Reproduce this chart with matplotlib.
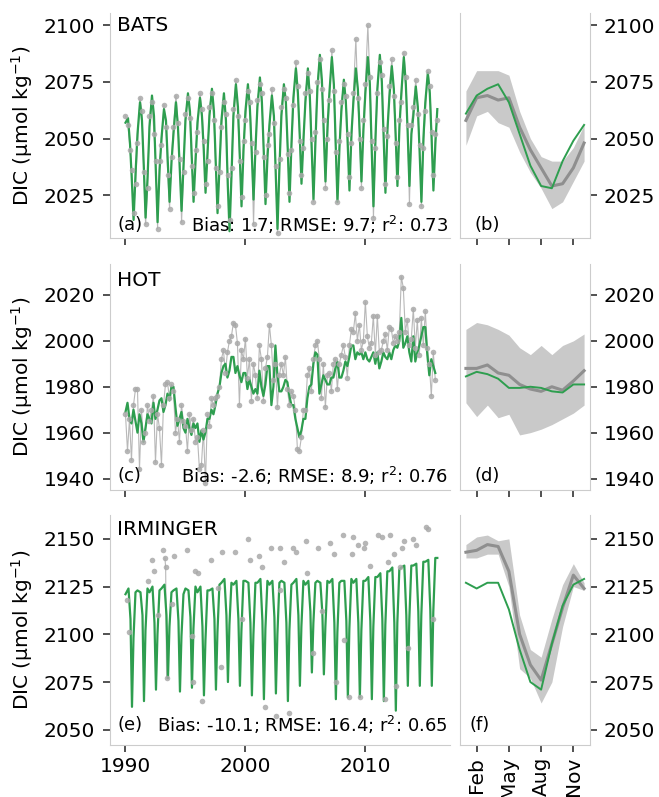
import numpy as np
import matplotlib.pyplot as plt

# time-series samples: one row per year, values at the months listed below
years = list(range(1990, 2017))

bats_months = [0.5, 3.0, 5.0, 6.8, 8.6, 10.6]
bats_model = [
    [2057, 2059, 2048, 2032, 2014, 2035],
    [2052, 2066, 2058, 2038, 2015, 2033],
    [2055, 2069, 2060, 2036, 2013, 2036],
    [2050, 2063, 2058, 2040, 2022, 2040],
    [2052, 2066, 2055, 2037, 2018, 2038],
    [2058, 2070, 2062, 2042, 2022, 2040],
    [2057, 2068, 2060, 2045, 2026, 2044],
    [2060, 2072, 2062, 2040, 2017, 2038],
    [2058, 2070, 2058, 2030, 2009, 2034],
    [2060, 2074, 2064, 2043, 2020, 2045],
    [2062, 2074, 2063, 2044, 2023, 2046],
    [2064, 2077, 2066, 2045, 2021, 2042],
    [2056, 2069, 2060, 2035, 2010, 2038],
    [2060, 2074, 2066, 2046, 2022, 2048],
    [2068, 2081, 2070, 2052, 2030, 2050],
    [2066, 2081, 2068, 2046, 2023, 2049],
    [2072, 2087, 2076, 2054, 2031, 2055],
    [2070, 2086, 2074, 2048, 2022, 2046],
    [2062, 2076, 2066, 2048, 2027, 2052],
    [2066, 2081, 2072, 2053, 2031, 2054],
    [2070, 2086, 2074, 2046, 2020, 2050],
    [2072, 2087, 2075, 2050, 2026, 2054],
    [2068, 2082, 2072, 2052, 2029, 2055],
    [2070, 2086, 2074, 2053, 2029, 2052],
    [2060, 2073, 2064, 2044, 2022, 2050],
    [2066, 2079, 2070, 2050, 2027, 2048],
    [2063],
]
bats_obs = [
    [2060, 2056, 2045, 2036, 2017, 2030],
    [2048, 2068, 2062, 2035, 2012, 2028],
    [2060, 2066, 2052, 2040, 2010, 2040],
    [2047, 2065, 2055, 2034, 2019, 2042],
    [2055, 2069, 2057, 2041, 2013, 2035],
    [2061, 2068, 2059, 2038, 2026, 2045],
    [2053, 2070, 2063, 2049, 2030, 2040],
    [2064, 2070, 2058, 2037, 2020, 2035],
    [2055, 2066, 2061, 2034, 2014, 2037],
    [2063, 2076, 2060, 2040, 2024, 2049],
    [2058, 2071, 2066, 2048, 2012, 2044],
    [2067, 2074, 2070, 2042, 2025, 2047],
    [2052, 2072, 2057, 2038, 2008, 2041],
    [2064, 2072, 2068, 2043, 2026, 2045],
    [2065, 2084, 2073, 2049, 2034, 2046],
    [2070, 2079, 2071, 2050, 2022, 2053],
    [2075, 2085, 2072, 2058, 2028, 2050],
    [2067, 2089, 2071, 2044, 2022, 2049],
    [2066, 2074, 2069, 2052, 2033, 2048],
    [2070, 2094, 2068, 2050, 2028, 2058],
    [2074, 2100, 2077, 2049, 2015, 2046],
    [2070, 2084, 2078, 2054, 2030, 2051],
    [2073, 2085, 2069, 2048, 2033, 2058],
    [2066, 2088, 2077, 2056, 2021, 2056],
    [2064, 2076, 2061, 2047, 2020, 2046],
    [2062, 2080, 2073, 2053, 2034, 2052],
    [2058],
]

hot_months = [0.5, 2.5, 4.5, 6.5, 8.5, 10.5]
hot_model = [
    [1969, 1973, 1966, 1964, 1970, 1965],
    [1960, 1968, 1964, 1956, 1962, 1968],
    [1966, 1964, 1973, 1966, 1970, 1974],
    [1975, 1969, 1972, 1977, 1974, 1980],
    [1980, 1971, 1963, 1966, 1969, 1962],
    [1960, 1966, 1962, 1959, 1964, 1962],
    [1964, 1956, 1961, 1957, 1960, 1966],
    [1966, 1970, 1968, 1972, 1977, 1980],
    [1986, 1989, 1990, 1984, 1987, 1993],
    [1993, 1986, 1989, 1985, 1982, 1986],
    [1986, 1979, 1983, 1980, 1977, 1979],
    [1977, 1987, 1980, 1976, 1981, 1989],
    [1989, 1972, 1980, 1998, 1985, 1978],
    [1978, 1980, 1983, 1982, 1976, 1972],
    [1972, 1966, 1962, 1958, 1961, 1966],
    [1966, 1975, 1980, 1981, 1990, 1995],
    [1994, 1977, 1981, 1985, 1983, 1981],
    [1981, 1984, 1984, 1988, 1991, 1984],
    [1984, 1987, 1991, 1989, 1993, 1998],
    [1998, 1992, 1995, 1994, 1995, 1992],
    [1995, 1992, 1991, 1993, 1995, 1990],
    [1995, 1988, 1991, 1995, 1993, 1992],
    [1995, 1992, 1996, 1998, 1997, 2000],
    [2010, 1997, 1999, 2002, 1995, 1991],
    [2002, 1991, 1995, 1998, 2002, 2006],
    [2006, 1994, 1985, 1992, 1989, 1986],
]
hot_obs = [
    [1968, 1952, 1966, 1948, 1972, 1979],
    [1979, 1944, 1970, 1956, 1960, 1972],
    [1965, 1970, 1976, 1947, 1968, 1962],
    [1946, 1972, 1981, 1982, 1975, 1981],
    [1978, 1960, 1966, 1956, 1972, 1965],
    [1963, 1952, 1968, 1961, 1966, 1956],
    [1958, 1944, 1946, 1961, 1938, 1968],
    [1963, 1975, 1972, 1975, 1976, 1980],
    [1992, 1996, 1986, 1995, 2000, 2002],
    [2008, 2007, 1999, 1972, 1996, 1992],
    [2001, 1984, 1992, 1974, 1990, 1985],
    [1975, 1998, 1992, 1974, 1988, 1993],
    [2007, 1998, 1983, 1990, 1971, 1985],
    [1990, 1985, 1993, 1979, 1972, 1978],
    [1976, 1970, 1953, 1952, 1958, 1970],
    [1970, 1985, 1988, 1978, 1992, 1998],
    [2000, 1992, 1975, 1990, 1971, 1985],
    [1986, 1978, 1990, 1992, 1979, 1990],
    [1994, 1998, 1993, 1984, 1998, 2005],
    [2004, 2012, 2000, 2007, 1996, 2000],
    [2017, 2002, 1997, 1999, 2011, 1994],
    [2011, 1995, 1996, 2000, 2003, 1996],
    [2006, 2005, 1999, 2002, 2000, 2004],
    [2028, 2023, 2004, 2009, 1998, 2001],
    [2014, 1997, 2009, 1994, 2010, 1998],
    [2013, 1997, 1990, 1976, 1995, 1983],
]

irm_months = [0.5, 3.5, 5.5, 7.0, 8.5, 10.5]
irm_model = [
    [2121, 2124, 2108, 2062, 2098, 2122],
    [2123, 2122, 2110, 2065, 2102, 2124],
    [2122, 2125, 2106, 2071, 2100, 2123],
    [2124, 2126, 2110, 2077, 2104, 2122],
    [2123, 2124, 2107, 2070, 2099, 2121],
    [2124, 2123, 2109, 2072, 2103, 2125],
    [2122, 2125, 2104, 2068, 2097, 2123],
    [2123, 2124, 2108, 2071, 2101, 2126],
    [2127, 2129, 2110, 2075, 2105, 2127],
    [2126, 2128, 2108, 2073, 2102, 2128],
    [2128, 2127, 2106, 2068, 2100, 2127],
    [2127, 2129, 2107, 2066, 2103, 2128],
    [2126, 2128, 2109, 2069, 2100, 2127],
    [2128, 2127, 2106, 2065, 2102, 2126],
    [2127, 2129, 2110, 2073, 2104, 2128],
    [2126, 2128, 2112, 2080, 2106, 2127],
    [2128, 2127, 2111, 2079, 2104, 2128],
    [2127, 2129, 2106, 2066, 2101, 2127],
    [2128, 2128, 2107, 2067, 2103, 2129],
    [2127, 2129, 2106, 2067, 2102, 2128],
    [2128, 2130, 2107, 2066, 2104, 2130],
    [2130, 2132, 2108, 2065, 2105, 2133],
    [2133, 2135, 2106, 2060, 2106, 2134],
    [2135, 2136, 2110, 2073, 2108, 2136],
    [2136, 2137, 2112, 2073, 2110, 2138],
    [2138, 2139, 2113, 2073, 2112, 2140],
    [2140],
]
# Irminger Sea bottle samples are sparse: explicit decimal years
irm_obs_t = [1990.14, 1990.33, 1991.89, 1992.22, 1992.44, 1992.78, 1993.19,
             1993.33, 1993.39, 1993.47, 1993.89, 1994.08, 1995.14, 1995.56,
             1995.70, 1995.83, 1996.10, 1996.39, 1997.17, 1997.78, 1998.00,
             1998.10, 1999.17, 1999.72, 2000.22, 2000.42, 2001.17, 2001.39,
             2001.67, 2002.17, 2002.60, 2002.90, 2002.95, 2003.30, 2003.65,
             2004.00, 2004.30, 2005.10, 2005.15, 2005.70, 2006.10, 2006.40,
             2007.10, 2007.40, 2007.60, 2008.20, 2008.30, 2008.70, 2008.90,
             2009.00, 2009.40, 2009.60, 2009.90, 2010.00, 2010.40, 2011.10,
             2011.40, 2011.70, 2011.90, 2012.10, 2012.40, 2012.60, 2012.90,
             2013.10, 2013.30, 2013.60, 2014.00, 2014.30, 2015.10, 2015.30,
             2015.70]
irm_obs_v = [2118, 2101, 2128, 2139, 2133, 2110, 2144,
             2140, 2135, 2077, 2116, 2141, 2144, 2099,
             2075, 2133, 2132, 2065, 2139, 2124, 2083,
             2143, 2143, 2108, 2150, 2139, 2141, 2135,
             2062, 2145, 2057, 2145, 2123, 2138, 2059,
             2145, 2143, 2149, 2132, 2090, 2145, 2112,
             2148, 2142, 2075, 2152, 2097, 2067, 2142,
             2151, 2147, 2067, 2145, 2148, 2136, 2152,
             2151, 2066, 2138, 2152, 2142, 2073, 2135,
             2145, 2149, 2093, 2150, 2147, 2156, 2155,
             2108]

# monthly climatologies
clim_months = list(range(1, 13))
bats_clim_obs = [2058, 2068, 2069, 2067, 2068, 2055, 2045, 2037, 2029, 2030, 2037, 2048]
bats_clim_lo = [2047, 2060, 2062, 2057, 2055, 2044, 2035, 2028, 2019, 2022, 2031, 2040]
bats_clim_hi = [2071, 2080, 2080, 2080, 2078, 2062, 2050, 2042, 2040, 2040, 2046, 2056]
bats_clim_mod = [2061, 2069, 2072, 2074, 2066, 2052, 2038, 2029, 2028, 2040, 2049, 2056]

hot_clim_obs = [1988, 1988, 1989.5, 1986, 1985, 1981, 1979, 1978, 1980, 1978.5, 1982.5, 1987]
hot_clim_lo = [1973, 1967, 1972, 1966.5, 1968, 1959, 1960, 1961.5, 1963.5, 1966, 1968.5, 1972]
hot_clim_hi = [2005, 2008, 2007, 2005, 2002.5, 1997, 1994, 1998, 1994, 1998, 2000, 2003]
hot_clim_mod = [1984.5, 1986.5, 1985.5, 1983.5, 1979.5, 1979.5, 1980, 1979.5, 1978, 1977.5, 1981, 1981]

irm_clim_obs = [2143, 2144, 2147, 2146, 2133, 2100, 2084, 2076, 2095, 2114, 2131, 2124]
irm_clim_lo = [2140, 2140, 2142, 2142, 2125, 2082, 2077, 2064, 2075, 2104, 2125, 2123]
irm_clim_hi = [2147, 2151, 2152, 2149, 2150, 2110, 2092, 2088, 2108, 2126, 2137, 2127]
irm_clim_mod = [2127, 2124, 2127, 2127, 2113, 2092, 2075, 2071, 2095, 2115, 2126, 2129]

stations = ['BATS', 'HOT', 'IRMINGER']
stats = ['Bias: 1.7; RMSE: 9.7; r$^2$: 0.73',
         'Bias: -2.6; RMSE: 8.9; r$^2$: 0.76',
         'Bias: -10.1; RMSE: 16.4; r$^2$: 0.65']
ylims = [(2006, 2105.5), (1935, 2033.5), (2042, 2162.5)]
yticks = [[2025, 2050, 2075, 2100], [1940, 1960, 1980, 2000, 2020],
          [2050, 2075, 2100, 2125, 2150]]


def to_series(rows, months):
    t, v = [], []
    for yr, row in zip(years, rows):
        for m, val in zip(months, row):
            t.append(yr + m / 12)
            v.append(val)
    return np.array(t), np.array(v)


GREEN = '#2e9e4f'
DOT = '#a9a9a9'
OBS_LINE = '#b8b8b8'
SPINE = '#cccccc'

fig = plt.figure(figsize=(6.59, 7.97), dpi=100)
W, H = 659, 797
rows_px = [(13, 238), (264, 490), (515, 745)]
name_y = [0.944, 0.925, 0.935]
tag_y = [0.06, 0.06, 0.085]
tags = [('(a)', '(b)'), ('(c)', '(d)'), ('(e)', '(f)')]
tag_x2 = [0.115, 0.115, 0.07]

series = [
    (to_series(bats_model, bats_months), to_series(bats_obs, bats_months)),
    (to_series(hot_model, hot_months), to_series(hot_obs, hot_months)),
    (to_series(irm_model, irm_months), (np.array(irm_obs_t), np.array(irm_obs_v))),
]
clims = [
    (bats_clim_obs, bats_clim_lo, bats_clim_hi, bats_clim_mod),
    (hot_clim_obs, hot_clim_lo, hot_clim_hi, hot_clim_mod),
    (irm_clim_obs, irm_clim_lo, irm_clim_hi, irm_clim_mod),
]

for i in range(3):
    top, bot = rows_px[i]
    b = 1 - bot / H
    h = (bot - top) / H
    ax = fig.add_axes([110 / W, b, 340 / W, h])
    ax2 = fig.add_axes([460 / W, b, 130 / W, h])

    (mt, mv), (ot, ov) = series[i]
    if i < 2:
        ax.plot(ot, ov, color=OBS_LINE, lw=0.8, zorder=1)
    else:
        # the 1993 profile is the only linked set of samples
        ax.plot(ot[7:10], ov[7:10], color=OBS_LINE, lw=0.8, zorder=1)
    ax.plot(mt, mv, color=GREEN, lw=1.6, zorder=2)
    ax.plot(ot, ov, 'o', color=DOT, ms=4, mec='none', alpha=0.85, zorder=3)

    c_obs, c_lo, c_hi, c_mod = clims[i]
    ax2.fill_between(clim_months, c_lo, c_hi, color='#c9c9c9', lw=0)
    ax2.plot(clim_months, c_obs, color='#8f8f8f', lw=2.2)
    ax2.plot(clim_months, c_mod, color=GREEN, lw=1.4)

    for a in (ax, ax2):
        a.set_ylim(*ylims[i])
        a.set_yticks(yticks[i])
        a.spines['top'].set_visible(False)
        for s in ('left', 'right', 'bottom'):
            a.spines[s].set_color(SPINE)
        a.tick_params(labelsize=14.5, length=5, width=1.2, color='#333333')
        a.tick_params(axis='y', pad=6)

    ax.spines['right'].set_visible(False)
    ax.set_xlim(1988.75, 2017.1)
    ax.set_xticks([1990, 2000, 2010])
    ax.set_ylabel('DIC (µmol kg$^{-1}$)', fontsize=14.5, labelpad=6)

    ax2.set_xlim(0.45, 12.55)
    ax2.set_xticks([2, 5, 8, 11])
    ax2.yaxis.tick_right()
    ax2.tick_params(axis='y', pad=5)

    if i < 2:
        ax.set_xticklabels([])
        ax2.set_xticklabels([])
    else:
        ax2.set_xticklabels(['Feb', 'May', 'Aug', 'Nov'], rotation=90)

    ax.text(0.022, name_y[i], stations[i], transform=ax.transAxes,
            fontsize=14.5, va='center', ha='left')
    ax.text(0.022, tag_y[i], tags[i][0], transform=ax.transAxes,
            fontsize=13, va='center', ha='left')
    ax.text(0.994, tag_y[i], stats[i], transform=ax.transAxes,
            fontsize=13, va='center', ha='right')
    ax2.text(tag_x2[i], tag_y[i], tags[i][1], transform=ax2.transAxes,
             fontsize=13, va='center', ha='left')

fig.savefig('out.png', dpi=100)
